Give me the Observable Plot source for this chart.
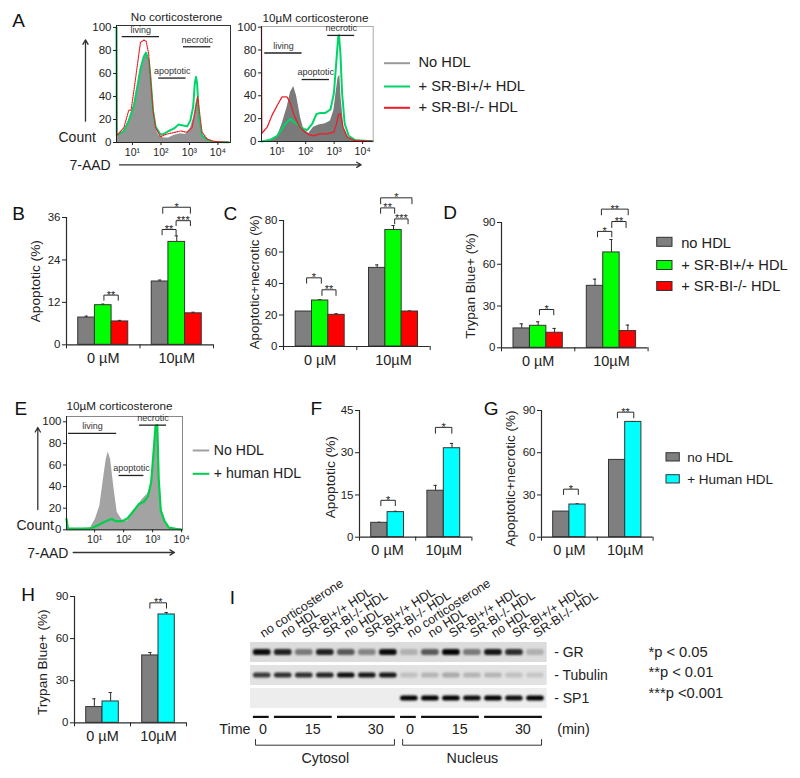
<!DOCTYPE html>
<html><head><meta charset="utf-8">
<script src="https://cdn.jsdelivr.net/npm/d3@7"></script>
<script src="https://cdn.jsdelivr.net/npm/@observablehq/plot@0.6"></script>
<style>
html,body{margin:0;padding:0;background:#fff}
#page{position:relative;width:800px;height:778px;overflow:hidden;background:#fff}
#page svg{position:absolute;overflow:visible;background:transparent;max-width:none}
</style></head><body><div id="page"></div>
<script>
// ---------- histogram data: [log10 intensity, % of max] ----------
const a1Gray=[[.44,6],[.7,10],[.87,19],[1.05,32],[1.16,47],[1.28,63],[1.4,74],[1.48,79],[1.57,71],[1.63,57],[1.72,28],[1.81,13],[1.92,6],[2.1,4],[2.27,4],[2.45,6],[2.68,7.5],[2.86,7],[3.03,12],[3.15,22],[3.23,34],[3.29,40],[3.36,22],[3.44,6],[3.62,2],[3.85,.5],[4.38,.2]];
const a1Green=[[.44,100],[.45,6],[.7,10],[.87,19],[1.05,32],[1.16,47],[1.28,64],[1.4,75],[1.48,78],[1.57,71],[1.63,57],[1.72,28],[1.81,14],[1.98,7],[2.1,7.5],[2.27,10],[2.45,12],[2.62,15.6],[2.74,15],[2.92,14],[3.03,19],[3.13,31],[3.19,52],[3.23,57],[3.27,51],[3.33,22],[3.44,6],[3.62,2.5],[3.85,.5],[4.38,.2]];
const a1Red=[[.44,100],[.45,6],[.7,13],[.87,28],[.95,28],[1.05,45],[1.16,65],[1.28,87],[1.4,89],[1.48,88],[1.57,77],[1.63,57],[1.72,28],[1.81,13],[1.98,5],[2.16,7],[2.33,8],[2.51,9],[2.68,10],[2.92,9],[3.09,13],[3.21,28],[3.29,40],[3.36,25],[3.44,9],[3.62,3],[3.85,1],[4.38,.2]];
const a2Gray=[[.45,0],[.76,1],[1,4],[1.17,15],[1.35,30],[1.47,43],[1.58,48],[1.68,40],[1.82,21],[1.93,11],[2.11,7],[2.28,12.5],[2.46,14.5],[2.69,15.5],[2.87,18],[2.99,27],[3.08,45],[3.14,56],[3.2,58],[3.24,39],[3.34,12.5],[3.51,3],[3.75,1],[4.37,.3]];
const a2Green=[[.45,0],[.76,1.5],[1,5],[1.17,11],[1.29,15.5],[1.47,20],[1.58,17],[1.76,14],[1.93,11],[2.05,10],[2.23,15.5],[2.38,24],[2.52,25],[2.69,25],[2.87,28],[2.99,42],[3.08,71],[3.14,91],[3.17,93],[3.22,77],[3.28,42],[3.37,15.5],[3.51,5],[3.75,1],[4.37,.3]];
const a2Red=[[.45,100],[.46,7],[.65,12.5],[.82,23],[1,31.5],[1.17,39],[1.35,39],[1.47,33],[1.58,24],[1.76,14],[1.93,9],[2.11,6],[2.28,5],[2.52,6.7],[2.75,6.7],[2.99,8],[3.08,15.5],[3.16,24],[3.22,24],[3.31,12.5],[3.45,4],[3.69,1],[4.37,.3]];
const eGray=[[.03,.5],[.52,1],[.86,2],[1.03,10],[1.18,22],[1.32,50],[1.4,65],[1.47,72],[1.55,65],[1.67,38],[1.78,16],[1.95,9],[2.13,8],[2.3,14],[2.47,21],[2.64,28],[2.82,33],[2.93,39],[3.05,68],[3.1,93],[3.16,96],[3.22,50],[3.3,21],[3.45,5],[3.62,1],[4.02,.3]];
const eGreen=[[.03,10],[.08,1],[.52,1],[.86,1],[1.09,4],[1.32,7],[1.49,9],[1.59,10],[1.72,8],[1.95,8],[2.13,10.5],[2.3,16],[2.53,24],[2.7,26],[2.84,31],[2.95,44],[3.05,78],[3.1,96],[3.16,97],[3.21,47],[3.28,18],[3.41,8],[3.56,2],[3.8,1],[4.02,.3]];
// gates: label, x1, x2 (log10), y (%)
const a1Gates=[["living",.64,1.95,92],["apoptotic",1.92,2.88,56],["necrotic",2.79,3.75,83.2]];
const a2Gates=[["living",.565,1.875,77.4],["apoptotic",1.875,2.835,54.2],["necrotic",2.775,3.72,92.8]];
const eGates=[["living",.1,1.76,89.2],["apoptotic",1.84,2.7,50.3],["necrotic",2.55,3.48,96.9]];
// ---------- bar data ----------
const groups=["0 µM","10µM"];
const threeColors=["#7f7f7f","#00ff00","#ff0000"];
const twoColors=["#7f7f7f","#00ffff"];
const bVals=[7.7,11.2,6.6,17.9,29.1,8.9], bTops=[8.1,11.5,6.9,18.3,30.8,9.2];
const cVals=[22.2,29.2,20.1,49.9,74,22.2], cTops=[22.2,29.7,20.8,51.8,76.8,22.6];
const dVals=[13.9,15.8,10.8,44.5,68.5,12], dTops=[17.2,18.7,13.9,49.3,77.8,16.3];
const fVals=[5.1,8.9,16.5,31.6], fTops=[5.3,9.2,18.4,33.3];
const gVals=[18.2,23.2,54.9,81.9], gTops=[18.2,23.7,54.9,82.2];
const hVals=[11.2,15.2,48,77.2], hTops=[17.1,21.6,50.1,78.6];
// brackets: group, from bar, to bar, top value, foot value, stars
const bBr=[[0,1.54,2.4,14.05,12.6,"**"],[1,.62,1.46,32.6,31.1,"**"],[1,1.46,2.32,35.1,33.7,"***"],[1,.66,2.32,38.9,37.2,"*"]];
const cBr=[[0,.67,1.57,43.6,40.2,"*"],[0,1.61,2.47,36,32.4,"**"],[1,.71,2.63,94.4,90.6,"*"],[1,.71,1.57,88,84.6,"**"],[1,1.57,2.39,81,77.9,"***"]];
const dBr=[[0,1.58,2.45,27.5,23.7,"*"],[1,.65,1.52,83.6,79.7,"*"],[1,1.52,2.39,90.7,86.4,"**"],[1,.89,2.52,99.6,95.5,"**"]];
const fBr=[[0,.59,1.47,13.1,11.2,"*"],[1,.49,1.49,39,36.9,"*"]];
const gBr=[[0,.64,1.55,34.1,30.3,"*"],[1,.52,1.53,88.8,84.8,"**"]];
const hBr=[[1,.47,1.49,85.5,81.7,"**"]];
// ---------- western blot ----------
const blotRows=["GR","Tubulin","SP1"];
const laneLabels=["no corticosterone","no HDL","SR-BI+/+ HDL","SR-BI-/- HDL","no HDL","SR-BI+/+ HDL","SR-BI-/- HDL","no corticosterone","no HDL","SR-BI+/+ HDL","SR-BI-/- HDL","no HDL","SR-BI+/+ HDL","SR-BI-/- HDL"];
const grBands=[.95,.85,.45,.85,.6,.4,.95,.2,.6,.98,.45,.9,.8,.2];
const tubulinBands=[.75,.8,.8,.85,.95,.9,.9,.15,.2,.25,.2,.2,.15,.12];
const sp1Bands=[0,0,0,0,0,0,0,1,1,1,.95,1,.95,1];
const timeGroups=[[0,0,"0"],[1,3,"15"],[4,6,"30"],[7,7,"0"],[8,10,"15"],[11,13,"30"]];
const fractions=[["Cytosol",0,6],["Nucleus",7,13]];

// ---------- helpers ----------
const page=document.getElementById("page");
const FONT="Liberation Sans", INK="#222";
const M={l:50,r:20,t:45,b:30};
function mount(opts,x0,x1,yb,yt,m=M){
  const p=Plot.plot({width:x1-x0+m.l+m.r,height:yb-yt+m.t+m.b,marginLeft:m.l,marginRight:m.r,marginTop:m.t,marginBottom:m.b,
    style:{fontFamily:FONT,background:"transparent",overflow:"visible",color:INK},...opts});
  p.style.left=(x0-m.l)+"px";p.style.top=(yt-m.t)+"px";page.appendChild(p);return p;
}
const sup={1:"10¹",2:"10²",3:"10³",4:"10⁴"};
function hist(box,xd,yd,gray,grayFill,lines,gates,frameStroke){
  const marks=[
    Plot.areaY(gray,{x:d=>d[0],y:d=>d[1],fill:grayFill}),
    ...lines.map(l=>Plot.line(l.data,{x:d=>d[0],y:d=>d[1],stroke:l.color,strokeWidth:l.w,strokeDasharray:l.dash})),
    Plot.frame({stroke:frameStroke,strokeWidth:1}),
    Plot.ruleX([xd[0]],{stroke:"#222",strokeWidth:1}),
    Plot.ruleY([0],{stroke:"#222",strokeWidth:1}),
    Plot.axisY({ticks:[0,20,40,60,80,100],tickSize:3,tickPadding:2,fontSize:11.5,label:null}),
    Plot.axisX({ticks:[1,2,3,4],tickFormat:d=>sup[d],tickSize:3,tickPadding:3,fontSize:10.5,label:null}),
    Plot.ruleY(gates,{x1:d=>d[1],x2:d=>d[2],y:d=>d[3],stroke:"#222",strokeWidth:1.3}),
    Plot.text(gates,{x:d=>(d[1]+d[2])/2,y:d=>d[3],text:d=>d[0],dy:-7,fontSize:9,fill:"#333"})
  ];
  mount({x:{domain:xd,label:null},y:{domain:yd,label:null},marks},...box);
}
function bars(box,vals,tops,colors,bwPx,br,yMax,yTicks){
  const n=colors.length, W=(box[1]-box[0])/2/bwPx, pad=(W-n)/2;
  const recs=vals.map((v,i)=>{const g=Math.floor(i/n),s=i%n,x=g*W+pad+s;return {v,top:tops[i],x1:x,x2:x+1,mid:x+.5,c:colors[s]};});
  const brLines=[];br.forEach((b,k)=>{const o=b[0]*W+pad;[[o+b[1],b[4]],[o+b[1],b[3]],[o+b[2],b[3]],[o+b[2],b[4]]].forEach(p=>brLines.push({k,x:p[0],y:p[1]}));});
  const ink="#2a2a2a";
  mount({x:{domain:[0,2*W],label:null},y:{domain:[0,yMax],label:null},marks:[
    Plot.ruleX(recs,{x:"mid",y1:"v",y2:"top",stroke:ink,strokeWidth:1}),
    Plot.ruleY(recs,{x1:d=>d.mid-.1,x2:d=>d.mid+.1,y:"top",stroke:ink,strokeWidth:1}),
    Plot.rectY(recs,{x1:"x1",x2:"x2",y1:0,y2:"v",fill:"c",stroke:"#333",strokeWidth:1}),
    Plot.ruleY([0],{stroke:ink,strokeWidth:1.2}),
    Plot.ruleX([0],{y1:0,y2:yMax,stroke:ink,strokeWidth:1.2}),
    Plot.axisY({ticks:yTicks,tickSize:4,tickPadding:2,fontSize:11.5,label:null}),
    Plot.axisX({ticks:[0,W,2*W],tickFormat:()=>"",tickSize:4,label:null}),
    Plot.axisX({ticks:[W/2,1.5*W],tickFormat:(d)=>groups[d<W?0:1],tickSize:0,tickPadding:8,fontSize:14.5,label:null}),
    Plot.line(brLines,{x:"x",y:"y",z:"k",stroke:ink,strokeWidth:1}),
    Plot.text(br,{x:b=>b[0]*W+pad+(b[1]+b[2])/2,y:b=>b[3],text:b=>b[5],fontSize:11,lineAnchor:"middle",fill:ink})
  ]},...box);
}
// ---------- flow histograms ----------
hist([116,230,142,25],[.44,4.44],[0,101.7],a1Gray,"#949494",[{data:a1Green,color:"#00d468",w:2},{data:a1Red,color:"#ee1c25",w:1.2,dash:"1.2 1.2"}],a1Gates,"#333");
hist([261,372.7,141,26],[.45,4.37],[0,100.6],a2Gray,"#7a7a7a",[{data:a2Green,color:"#00d468",w:2},{data:a2Red,color:"#ee1c25",w:1.3,dash:"2 .8"}],a2Gates,"#aaa");
hist([66,182,529,415.7],[.03,4.03],[0,104.9],eGray,"#a3a3a3",[{data:eGreen,color:"#00d048",w:2.2}],eGates,"#888");
// ---------- bar panels ----------
bars([66,213,344,216.7],bVals,bTops,threeColors,16.67,bBr,36,[0,12,24,36]);
bars([283.3,430,346,220],cVals,cTops,threeColors,16.33,cBr,80,[0,20,40,60,80]);
bars([500.7,647.3,347,221.7],dVals,dTops,threeColors,16.43,dBr,90,[0,30,60,90]);
bars([359.3,471.7,536.7,410],fVals,fTops,twoColors,16.4,fBr,45,[0,15,30,45]);
bars([540.7,652.3,536.7,410],gVals,gTops,twoColors,16.2,gBr,90,[0,30,60,90]);
bars([73.7,185.7,722.3,596],hVals,hTops,twoColors,16.3,hBr,90,[0,30,60,90]);
// ---------- western blot ----------
const laneDomain=[-.557,13.557], laneIdx=d3.range(14);
const rowStyle=[{row:"GR",bg:"#dcdcdc",vals:grBands,inset:7},{row:"Tubulin",bg:"#e2e2e2",vals:tubulinBands,inset:7.5},{row:"SP1",bg:"#ededed",vals:sp1Bands,inset:7.5}];
const blotM={l:10,r:100,t:90,b:4};
mount({x:{domain:laneDomain,label:null},y:{domain:blotRows,paddingInner:.13,paddingOuter:0,label:null},opacity:{domain:[0,1],range:[0,1]},marks:[
  ...rowStyle.flatMap(r=>[
    Plot.barX([r.row],{x1:()=>laneDomain[0],x2:()=>laneDomain[1],y:d=>d,fill:r.bg}),
    Plot.barX(r.vals.map((v,i)=>({v,i})),{x1:d=>d.i-.42,x2:d=>d.i+.42,y:()=>r.row,fill:"#000",fillOpacity:"v",insetTop:r.inset,insetBottom:r.inset,rx:2.5,imageFilter:"blur(1.1px)"})
  ]),
  Plot.axisY({anchor:"right",tickSize:0,tickPadding:7,tickFormat:d=>"- "+d,fontSize:14,label:null,textAnchor:"start"}),
  Plot.axisX({anchor:"top",ticks:laneIdx,tickFormat:i=>laneLabels[i],tickRotate:-33,tickSize:0,tickPadding:8,dx:-1,fontSize:12.6,textAnchor:"start",label:null})
]},250,546.7,708.3,641.7,blotM);
// time bars, labels, brackets beneath the blot (y = px below blot)
const underM={l:10,r:100,t:0,b:0};
const brk=fractions.flatMap(([n,a,b])=>[[a-.32,31],[a-.32,36.7],[b+.29,36.7],[b+.29,31]].map(p=>({n,x:p[0],y:p[1]})));
mount({x:{domain:laneDomain,axis:null},y:{domain:[62,0],axis:null},marks:[
  Plot.ruleY(timeGroups,{x1:d=>d[0]-.42,x2:d=>d[1]+.33,y:8.4,stroke:"#111",strokeWidth:2.2}),
  Plot.text(timeGroups,{x:d=>(d[0]+d[1])/2+(d[0]==d[1]?.03:.4),y:20.7,text:d=>d[2],fontSize:14.3,fill:INK}),
  Plot.line(brk,{x:"x",y:"y",z:"n",stroke:"#333",strokeWidth:1}),
  Plot.text(fractions,{x:d=>(d[1]+d[2])/2,y:50,text:d=>d[0],fontSize:14.3,fill:INK})
]},250,546.7,770.3,708.3,underM);
// ---------- annotations, legends, panel letters ----------
const px={x:{domain:[0,800],range:[0,800],axis:null},y:{domain:[0,778],range:[0,778],axis:null}};
const letters=[["A",11.7,20.7],["B",11.7,213],["C",223,213],["D",442.7,212.7],["E",14,408.3],["F",310,408],["G",483.3,408],["H",20.7,594],["I",229.3,597]];
const plain=[["No corticosterone",176,16.5,11.7,"middle"],["10µM corticosterone",315,18,11.7,"middle"],["10µM corticosterone",119,405.7,11.7,"middle"],
 ["Count",58,137,14,"start"],["7-AAD",69,165,14,"start"],["Count",16,525,14,"start"],["7-AAD",26.7,552.7,14,"start"],
 ["No HDL",418,62,14.7,"start"],["+ SR-BI+/+ HDL",418,86,14.7,"start"],["+ SR-BI-/- HDL",418,107,14.7,"start"],
 ["No HDL",213.3,450,14.1,"start"],["+ human HDL",213.3,473.3,14.1,"start"],
 ["no HDL",680.7,242.3,14.7,"start"],["+ SR-BI+/+ HDL",680.7,265,14.7,"start"],["+ SR-BI-/- HDL",680.7,286,14.7,"start"],
 ["no HDL",686.7,457,13.5,"start"],["+ Human HDL",686.7,479,13.5,"start"],
 ["Time",250,729,14.3,"end"],["(min)",556.7,729,14.3,"start"],
 ["*p < 0.05",648,652,14.7,"start"],["**p < 0.01",648,672,14.7,"start"],["***p <0.001",648,693,14.7,"start"]];
const vertical=[["Apoptotic (%)",35,280.7,13.7],["Apoptotic+necrotic (%)",254,281.7,13.3],["Trypan Blue+ (%)",470,285.5,13.6],["Apoptotic (%)",330,476.7,13.7],["Apoptotic+necrotic (%)",510,478,13.5],["Trypan Blue+ (%)",41.7,661.7,13.6]];
const arrows=[[85,120.7,85,39.3],[119,164.3,360.7,164.3],[37.3,509,37.3,427],[72.7,552,174,552]];
const legendLines=[[384,410,62.7,"#999"],[384,410,86,"#00d468"],[384,410,107.3,"#ee1c25"],[192.7,209.3,450,"#a0a0a0"],[192.7,209.3,473.3,"#00d048"]];
const swatches=[[656.7,672,237.3,246.3,"#7f7f7f"],[656.7,672,260.5,269.5,"#00ff00"],[656.7,672,281.5,290.5,"#ff0000"],[666,679.3,452.7,461,"#7f7f7f"],[666,679.3,474.7,483,"#00ffff"]];
const ov=Plot.plot({width:800,height:778,margin:0,...px,style:{fontFamily:FONT,background:"transparent",overflow:"visible"},marks:[
  Plot.text(letters,{x:d=>d[1],y:d=>d[2],text:d=>d[0],fontSize:19,textAnchor:"start",fill:"#111"}),
  Plot.text(plain,{x:d=>d[1],y:d=>d[2],text:d=>d[0],fontSize:d=>d[3],textAnchor:"start",fill:INK,filter:d=>d[4]=="start"}),
  Plot.text(plain,{x:d=>d[1],y:d=>d[2],text:d=>d[0],fontSize:d=>d[3],textAnchor:"middle",fill:INK,filter:d=>d[4]=="middle"}),
  Plot.text(plain,{x:d=>d[1],y:d=>d[2],text:d=>d[0],fontSize:d=>d[3],textAnchor:"end",fill:INK,filter:d=>d[4]=="end"}),
  Plot.text(vertical,{x:d=>d[1],y:d=>d[2],text:d=>d[0],rotate:-90,fontSize:d=>d[3],fill:INK}),
  Plot.arrow(arrows,{x1:d=>d[0],y1:d=>d[1],x2:d=>d[2],y2:d=>d[3],stroke:"#333",strokeWidth:1.3,headLength:6,inset:0}),
  Plot.ruleY(legendLines,{x1:d=>d[0],x2:d=>d[1],y:d=>d[2],stroke:d=>d[3],strokeWidth:2}),
  Plot.rect(swatches,{x1:d=>d[0],x2:d=>d[1],y1:d=>d[2],y2:d=>d[3],fill:d=>d[4],stroke:"#333",strokeWidth:1})
]});
ov.style.left="0";ov.style.top="0";ov.style.pointerEvents="none";page.appendChild(ov);
</script></body></html>
